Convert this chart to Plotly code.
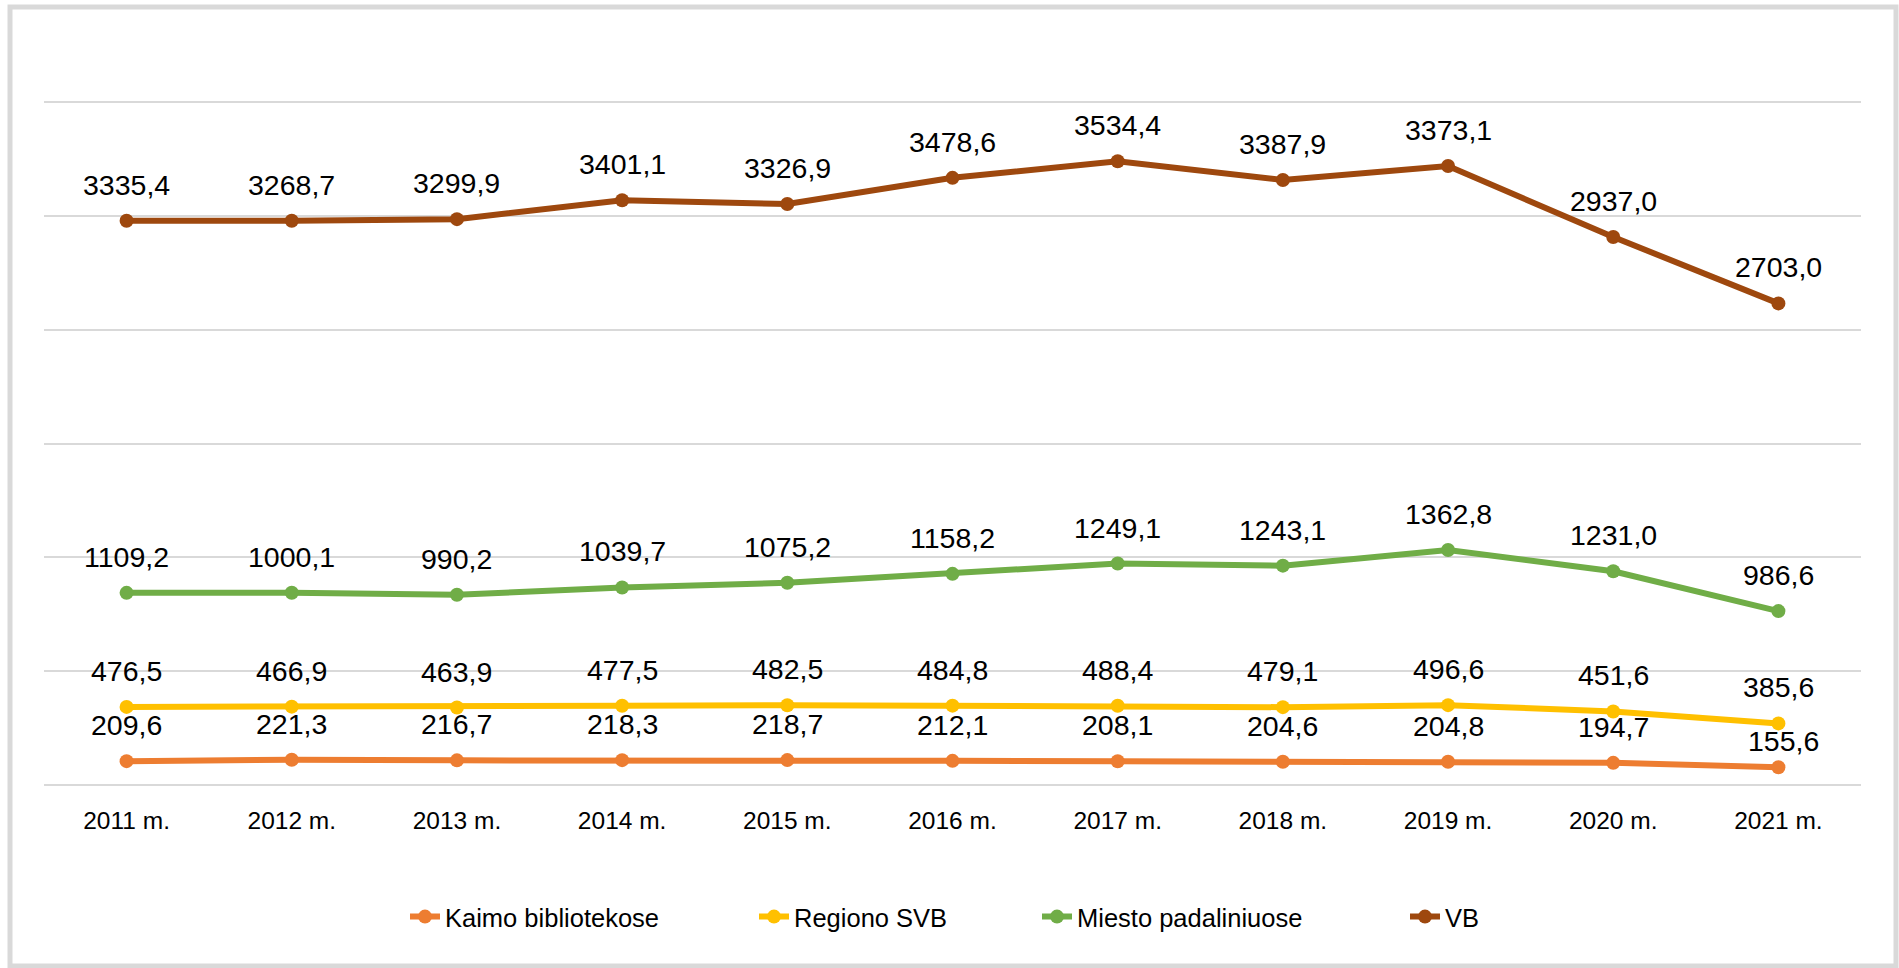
import plotly.graph_objects as go

years = ["2011 m.", "2012 m.", "2013 m.", "2014 m.", "2015 m.", "2016 m.",
         "2017 m.", "2018 m.", "2019 m.", "2020 m.", "2021 m."]

# plotted values (the chart stacks the series)
kaimo = [209.6, 221.3, 216.7, 218.3, 218.7, 212.1, 208.1, 204.6, 204.8, 194.7, 155.6]
regiono = [476.5, 466.9, 463.9, 477.5, 482.5, 484.8, 488.4, 479.1, 496.6, 451.6, 385.6]
miesto = [1002.0, 1000.1, 990.2, 1039.7, 1075.2, 1158.2, 1249.1, 1243.1, 1362.8, 1231.0, 986.6]
vb = [3268.7, 3268.7, 3299.9, 3401.1, 3326.9, 3478.6, 3534.4, 3387.9, 3373.1, 2937.0, 2703.0]

# data labels as printed on the chart
kaimo_labels = ["209,6", "221,3", "216,7", "218,3", "218,7", "212,1", "208,1", "204,6", "204,8", "194,7", "155,6"]
regiono_labels = ["476,5", "466,9", "463,9", "477,5", "482,5", "484,8", "488,4", "479,1", "496,6", "451,6", "385,6"]
miesto_labels = ["1109,2", "1000,1", "990,2", "1039,7", "1075,2", "1158,2", "1249,1", "1243,1", "1362,8", "1231,0", "986,6"]
vb_labels = ["3335,4", "3268,7", "3299,9", "3401,1", "3326,9", "3478,6", "3534,4", "3387,9", "3373,1", "2937,0", "2703,0"]

series = [
    ("Kaimo bibliotekose", kaimo, kaimo_labels, "#ED7D31"),
    ("Regiono SVB", regiono, regiono_labels, "#FFC000"),
    ("Miesto padaliniuose", miesto, miesto_labels, "#70AD47"),
    ("VB", vb, vb_labels, "#9E480E"),
]

W, H = 1899, 968
L, R, T, B = 44, 38, 102, 183
PW = W - L - R
PH = H - T - B

def px2paper_x(px):
    return (px - L) / PW

def px2paper_y(py):
    return (H - B - py) / PH

FONT = "Liberation Sans, Arial, sans-serif"

fig = go.Figure()
legend_names = ["legend", "legend2", "legend3", "legend4"]
text_starts = [445, 794, 1077, 1445]

annotations = []
cum = [0.0] * len(years)
for i, (name, vals, labels, col) in enumerate(series):
    fig.add_trace(go.Scatter(
        x=years, y=vals, name=name,
        mode="lines+markers",
        stackgroup="one", fill="none",
        line=dict(color=col, width=6),
        marker=dict(color=col, size=14),
        legend=legend_names[i],
        hoverinfo="skip",
    ))
    cum = [c + v for c, v in zip(cum, vals)]
    for j, (yr, lab) in enumerate(zip(years, labels)):
        ys, xs = 36, 0
        if i == 0 and j == len(years) - 1:
            ys, xs = 26, 5
        annotations.append(dict(
            x=yr, y=cum[j], xref="x", yref="y", text=lab,
            showarrow=False, xanchor="center", yanchor="middle",
            yshift=ys, xshift=xs,
            font=dict(family=FONT, size=28.5, color="#000000"),
        ))

layout_legends = {}
for i, ln in enumerate(legend_names):
    layout_legends[ln] = dict(
        x=px2paper_x(text_starts[i] - 40), xanchor="left",
        y=px2paper_y(917), yanchor="middle",
        orientation="h",
        bgcolor="rgba(0,0,0,0)",
        font=dict(family=FONT, size=25.5, color="#000000"),
    )

fig.update_layout(
    width=W, height=H,
    margin=dict(l=L, r=R, t=T, b=B),
    paper_bgcolor="white", plot_bgcolor="white",
    showlegend=True,
    **layout_legends,
    annotations=annotations,
    xaxis=dict(
        type="category", range=[-0.5, len(years) - 0.5],
        showgrid=False, zeroline=False, showline=False,
        ticks="", ticklabelstandoff=18,
        tickfont=dict(family=FONT, size=24.5, color="#000000"),
        fixedrange=True, automargin=False,
    ),
    yaxis=dict(
        range=[0, 6000], dtick=1000, tick0=0,
        showgrid=True, gridcolor="#D9D9D9", gridwidth=2,
        zeroline=False, showline=False,
        showticklabels=False, ticks="",
        fixedrange=True, automargin=False,
    ),
    shapes=[
        dict(type="rect", xref="paper", yref="paper",
             x0=px2paper_x(10), x1=px2paper_x(1896),
             y0=px2paper_y(966), y1=px2paper_y(7),
             line=dict(color="#D9D9D9", width=5),
             fillcolor="rgba(0,0,0,0)", layer="below"),
        dict(type="line", xref="paper", yref="paper",
             x0=0, x1=1, y0=1, y1=1,
             line=dict(color="#D9D9D9", width=2), layer="below"),
        dict(type="line", xref="paper", yref="paper",
             x0=0, x1=1, y0=0, y1=0,
             line=dict(color="#D9D9D9", width=2), layer="below"),
    ],
)

fig.write_html("out.html", config={"displayModeBar": False},
               post_script="document.body.style.margin='0px';")
